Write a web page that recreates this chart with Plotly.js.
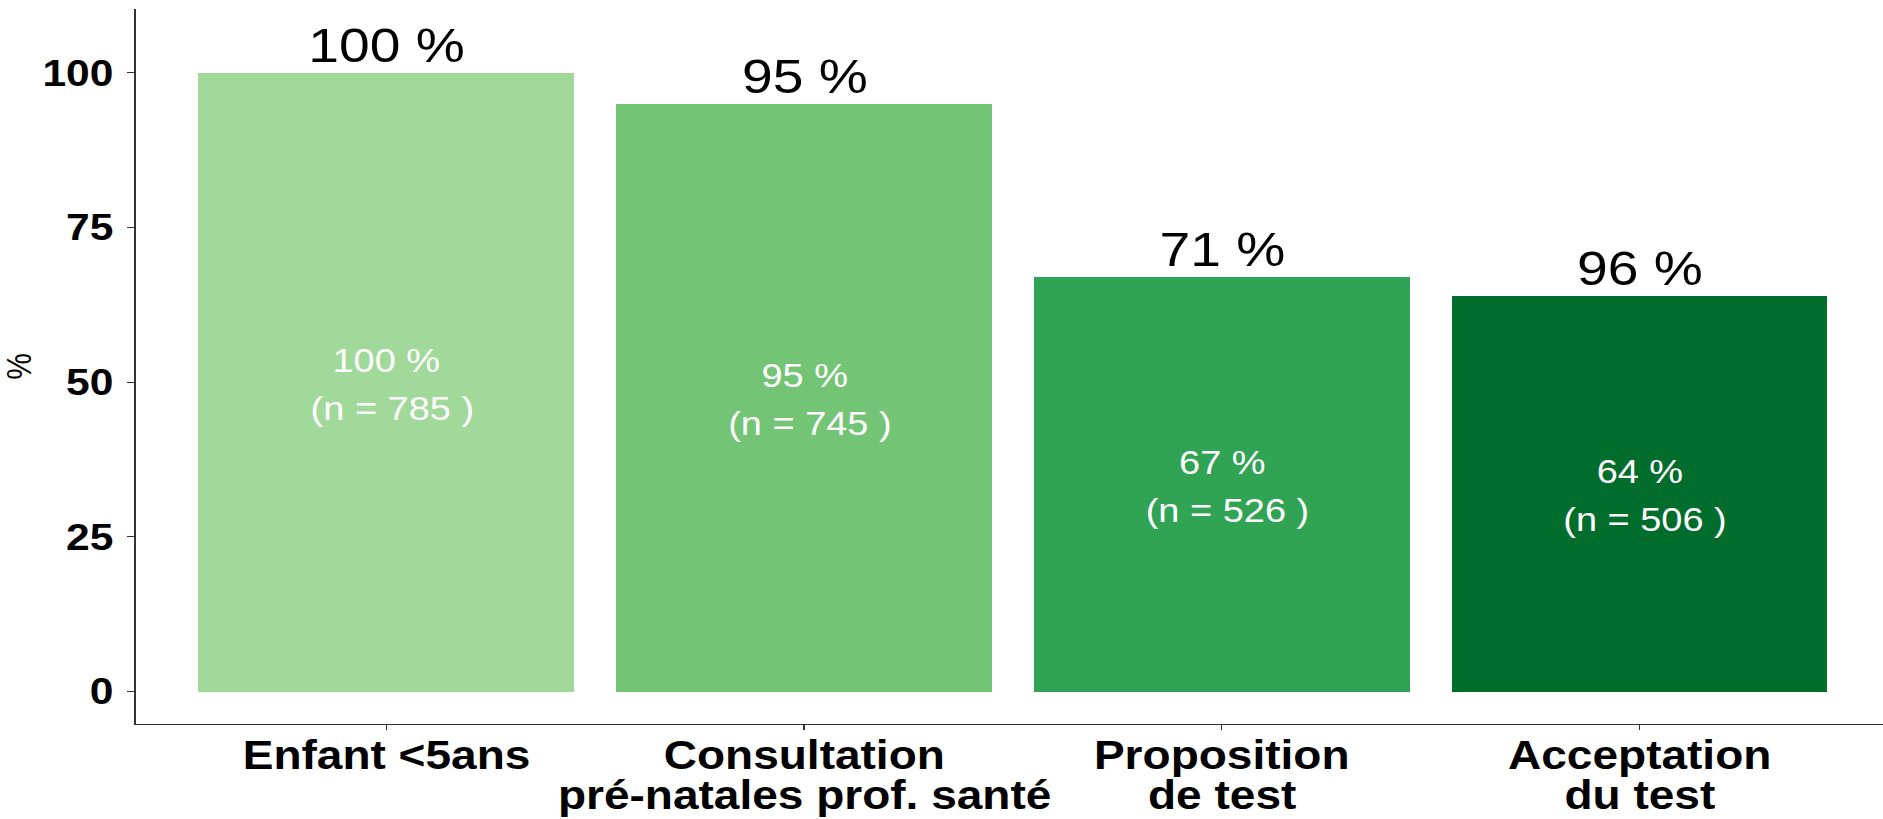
<!DOCTYPE html>
<html>
<head>
<meta charset="utf-8">
<script src="https://cdn.plot.ly/plotly-3.0.1.min.js"></script>
<style>
  html, body { margin: 0; padding: 0; background: #ffffff; overflow: hidden; }
  #chart { width: 1637px; height: 819px; transform: scaleX(1.1503); transform-origin: 0 0; }
</style>
</head>
<body>
<div id="chart"></div>
<script>
// ---- data ----
const categories = ['Enfant <5ans', 'Consultation<br>pré-natales prof. santé', 'Proposition<br>de test', 'Acceptation<br>du test'];
const values = [100, 95, 67, 64];
const topLabels = ['100 %', '95 %', '71 %', '96 %'];
const counts = [785, 745, 526, 506];
const barColors = ['#A1D99B', '#74C476', '#31A354', '#006D2C'];
const yTickVals = [0, 25, 50, 75, 100];
const yTitle = '%';

const FONT = 'Liberation Sans, Arial, Helvetica, sans-serif';
const idx = categories.map((c, i) => i);

const trace = {
  type: 'bar',
  x: idx,
  y: values,
  width: 0.9,
  marker: { color: barColors, line: { width: 0 } },
  hoverinfo: 'skip'
};

const annotations = [];
idx.forEach(i => {
  // label above the bar
  annotations.push({
    x: i, y: values[i], xref: 'x', yref: 'y',
    text: topLabels[i], showarrow: false,
    yanchor: 'middle', xanchor: 'center', yshift: 27,
    font: { family: FONT, size: 48, color: '#000000' }
  });
  // inner labels
  annotations.push({
    x: i, y: values[i] / 2, xref: 'x', yref: 'y',
    text: values[i] + ' %', showarrow: false,
    yanchor: 'middle', xanchor: 'center', yshift: 22,
    font: { family: FONT, size: 33, color: '#ffffff' }
  });
  annotations.push({
    x: i, y: values[i] / 2, xref: 'x', yref: 'y',
    text: '(n = ' + counts[i] + ' )', showarrow: false,
    yanchor: 'middle', xanchor: 'center', yshift: -26, xshift: 5,
    font: { family: FONT, size: 33, color: '#ffffff' }
  });
  // category labels (two-line, tight spacing)
  const lines = categories[i].split('<br>');
  lines.forEach((ln, k) => {
    annotations.push({
      x: i, y: 0, xref: 'x', yref: 'paper',
      text: '<b>' + ln + '</b>', showarrow: false,
      yanchor: 'middle', xanchor: 'center', yshift: -30.7 - 40 * k,
      font: { family: FONT, size: 40, color: '#000000' }
    });
  });
});

const layout = {
  width: 1637,
  height: 819,
  margin: { l: 118.2, r: 0, t: 9.3, b: 95, pad: 0 },
  paper_bgcolor: '#ffffff',
  plot_bgcolor: '#ffffff',
  showlegend: false,
  bargap: 0,
  xaxis: {
    type: 'linear',
    range: [-0.6, 3.583],
    tickvals: idx,
    showticklabels: false,
    ticks: 'outside', ticklen: 5, tickwidth: 1.2, tickcolor: '#333333',
    showline: true, linecolor: '#333333', linewidth: 1.3,
    showgrid: false, zeroline: false, fixedrange: true
  },
  yaxis: {
    range: [-5.25, 110.3],
    tickvals: yTickVals,
    ticktext: yTickVals.map(v => '<b>' + v + '</b>'),
    tickfont: { family: FONT, size: 37, color: '#000000' },
    ticks: 'outside', ticklen: 6.7, tickwidth: 1.2, tickcolor: '#333333',
    ticklabelstandoff: 4,
    showline: true, linecolor: '#333333', linewidth: 1.3,
    showgrid: false, zeroline: false, fixedrange: true,
    title: { text: yTitle, font: { family: FONT, size: 30, color: '#000000' }, standoff: 11 }
  },
  annotations: annotations
};

Plotly.newPlot('chart', [trace], layout, { displayModeBar: false, staticPlot: true });
</script>
</body>
</html>
